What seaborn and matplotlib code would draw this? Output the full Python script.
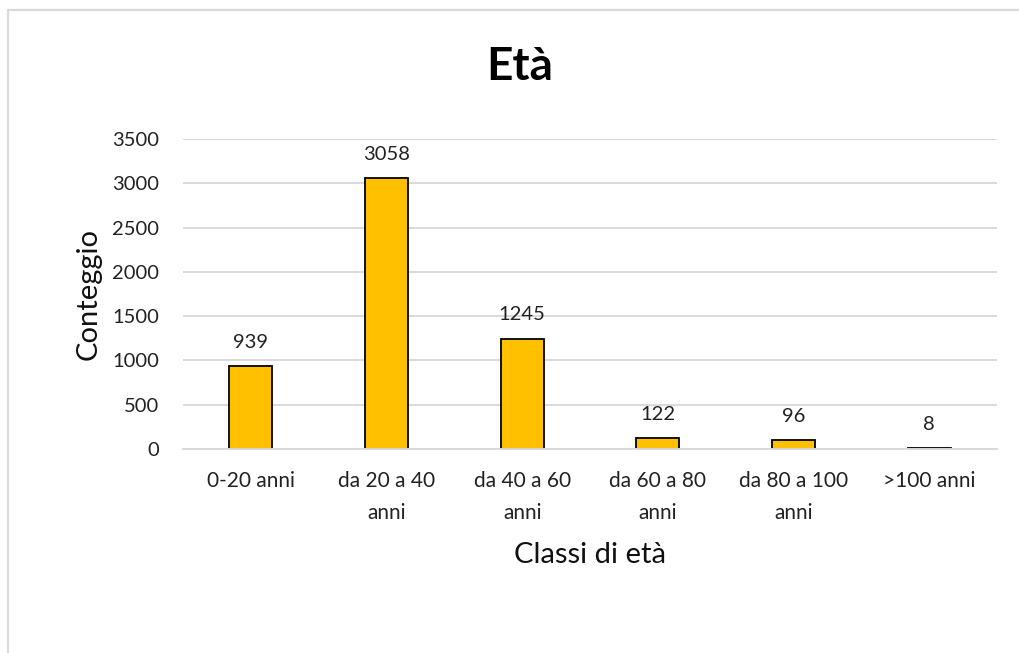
import matplotlib
matplotlib.use("Agg")
import matplotlib.pyplot as plt
import seaborn as sns
import pandas as pd
from matplotlib.lines import Line2D

# Age classes and their counts
categories = ["0-20 anni", "da 20 a 40\nanni", "da 40 a 60\nanni",
              "da 60 a 80\nanni", "da 80 a 100\nanni", ">100 anni"]
counts = [939, 3058, 1245, 122, 96, 8]
y_ticks = [0, 500, 1000, 1500, 2000, 2500, 3000, 3500]

sns.set_theme(style="white")
plt.rcParams["font.family"] = ["Lato", "DejaVu Sans"]

df = pd.DataFrame({"classe": categories, "conteggio": counts})

fig = plt.figure(figsize=(10.19, 6.53), dpi=100)
ax = fig.add_axes([183 / 1019, 1 - 449 / 653, (997 - 183) / 1019, (449 - 139) / 653])

sns.barplot(data=df, x="classe", y="conteggio", color="#FFC000",
            saturation=1, width=0.315, edgecolor="black", linewidth=1.3, ax=ax)

ax.set_ylim(0, 3500)
ax.set_xlim(-0.5, len(categories) - 0.5)
ax.set_yticks(y_ticks)
ax.yaxis.grid(True, color="#d9d9d9", linewidth=1.4)
ax.set_axisbelow(True)
for side in ["top", "right", "left"]:
    ax.spines[side].set_visible(False)
ax.spines["bottom"].set_color("#d9d9d9")
ax.spines["bottom"].set_linewidth(1.4)

ax.tick_params(axis="y", length=0, pad=17, labelsize=14.5, labelcolor="#222222")
ax.tick_params(axis="x", length=0, pad=16, labelsize=15, labelcolor="#222222")
for lbl in ax.get_xticklabels():
    lbl.set_linespacing(1.72)

# value labels above each bar
for i, v in enumerate(counts):
    ax.annotate(f"{v}", xy=(i, v), xytext=(0, 11), textcoords="offset points",
                ha="center", va="bottom", fontsize=14.5, color="#222222")

ax.set_xlabel("Classi di età", fontsize=21, color="#111111", labelpad=14)
ax.set_ylabel("Conteggio", fontsize=21, color="#111111", labelpad=8)

# chart title, centred over the whole chart area
fig.text(520 / 1019, 1 - 80 / 653, "Età", fontsize=33, fontweight="bold",
         color="black", ha="center", va="baseline")

# chart frame
fig.add_artist(Line2D([8 / 1019, 8 / 1019], [0, 1 - 10 / 653],
                      transform=fig.transFigure, color="#d9d9d9", linewidth=1.6))
fig.add_artist(Line2D([8 / 1019, 1], [1 - 10 / 653, 1 - 10 / 653],
                      transform=fig.transFigure, color="#d9d9d9", linewidth=1.6))

fig.savefig("out.png", dpi=100, facecolor="white")
